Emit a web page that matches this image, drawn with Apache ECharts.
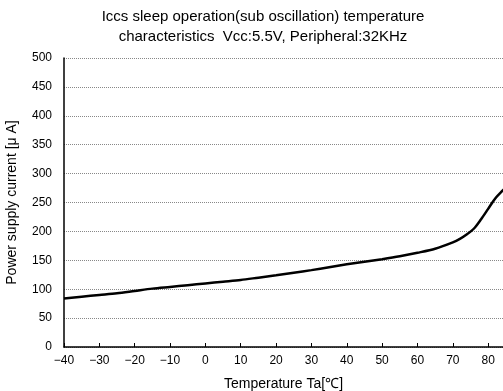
<!DOCTYPE html>
<html>
<head>
<meta charset="utf-8">
<script src="https://cdn.jsdelivr.net/npm/echarts@6/dist/echarts.min.js"></script>
<style>
  html, body { margin: 0; padding: 0; background: #fff; }
  #chart { width: 503px; height: 391px; }
</style>
</head>
<body>
<div id="chart"></div>
<script>
// temperature [°C] and current [uA]
const temps = [-40, -35, -30, -25, -20, -15, -10, -5, 0, 5, 10, 15, 20, 25, 30, 35, 40, 45, 50, 55, 60, 65, 70, 72, 74, 76, 78, 80, 82, 84, 86];
const current = [84, 87, 90, 93, 97, 101, 104, 107, 110, 113, 116, 120, 124, 128.5, 133, 138, 143, 147.5, 152, 157, 163, 170, 181, 187, 195, 205, 221, 239, 257, 270, 282];
const titleLines = ['Iccs sleep operation(sub oscillation) temperature', 'characteristics  Vcc:5.5V, Peripheral:32KHz'];

const font = 'Liberation Sans';
const chart = echarts.init(document.getElementById('chart'));

const option = {
    animation: false,
    title: {
        text: titleLines.join('\n'),
        left: 258,
        top: 2,
        textAlign: 'center',
        textStyle: {
            fontFamily: font,
            fontSize: 15,
            fontWeight: 'normal',
            color: '#000',
            lineHeight: 20
        }
    },
    grid: {
        left: 64,
        right: 0,
        top: 58,
        bottom: 44,
        outerBoundsMode: 'none'
    },
    xAxis: {
        type: 'value',
        min: -40,
        max: 84.2,
        interval: 10,
        name: 'Temperature Ta[\u2103]',
        nameLocation: 'middle',
        nameGap: 30,
        nameTextStyle: { fontFamily: font, fontSize: 14, color: '#000' },
        axisLine: { lineStyle: { color: '#000', width: 1.5 } },
        axisTick: { inside: true, length: 4, lineStyle: { color: '#000' } },
        axisLabel: {
            margin: 8,
            fontFamily: font,
            fontSize: 12,
            color: '#000',
            formatter: v => (v % 10 === 0 ? String(v).replace('-', '\u2212') : '')
        },
        splitLine: { show: false }
    },
    yAxis: {
        type: 'value',
        min: 0,
        max: 500,
        interval: 50,
        name: 'Power supply current [\u03bc A]',
        nameLocation: 'middle',
        nameGap: 45,
        nameTextStyle: { fontFamily: font, fontSize: 14, color: '#000' },
        axisLine: { show: true, onZero: false, lineStyle: { color: '#000', width: 1.5 } },
        axisTick: { show: false },
        axisLabel: { margin: 12, fontFamily: font, fontSize: 12, color: '#000' },
        splitLine: { lineStyle: { color: '#888', type: [1, 1], width: 1 } }
    },
    series: [
        {
            type: 'line',
            data: temps.map((t, i) => [t, current[i]]),
            smooth: 0.3,
            showSymbol: false,
            clip: true,
            lineStyle: { color: '#000', width: 2.5 }
        }
    ]
};

chart.setOption(option);
</script>
</body>
</html>
